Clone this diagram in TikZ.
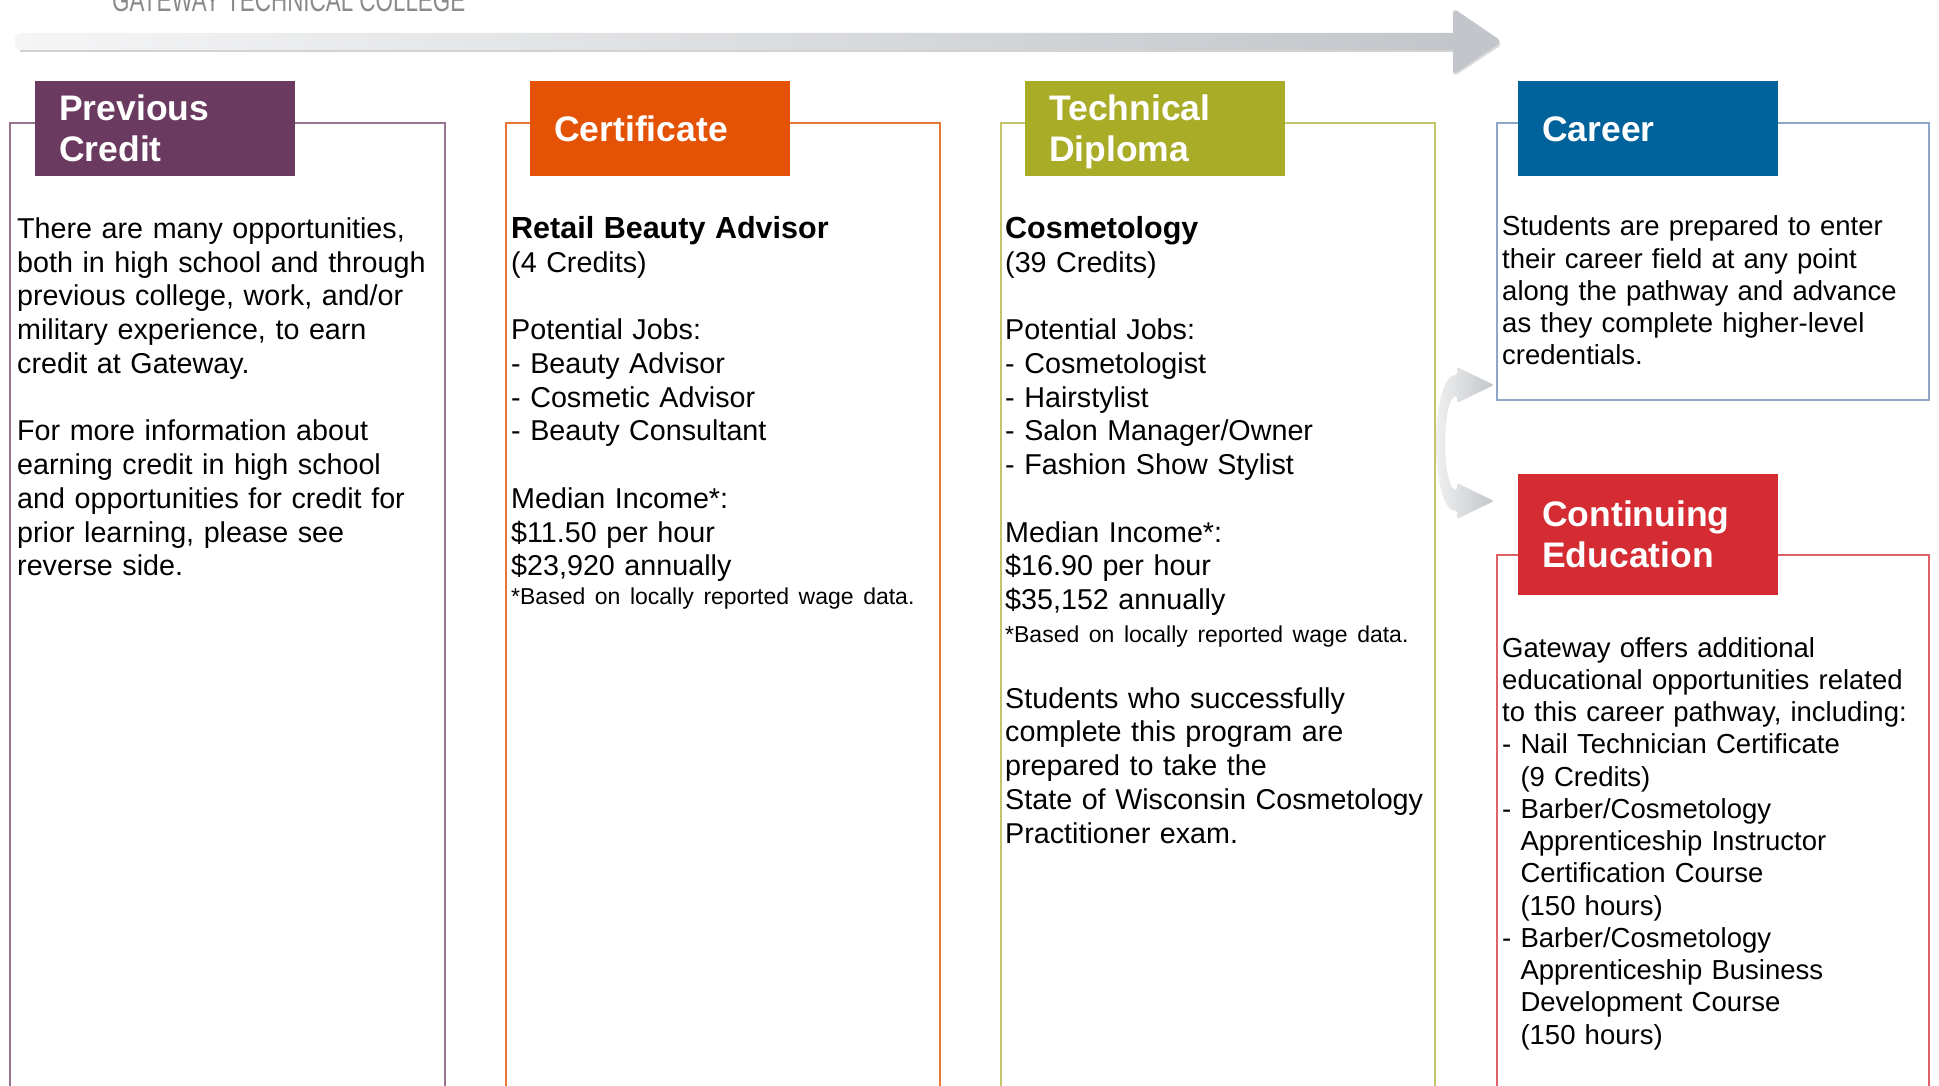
\documentclass[tikz,border=0pt]{standalone}
\usepackage{fontspec}
\setmainfont{Liberation Sans}
\usetikzlibrary{arrows.meta}

\definecolor{prevcol}{HTML}{6B3A60}
\definecolor{certcol}{HTML}{E35205}
\definecolor{dipcol}{HTML}{A9AC27}
\definecolor{careercol}{HTML}{00629B}
\definecolor{contcol}{HTML}{D52B33}
\definecolor{careerline}{HTML}{8EA7C8}
\definecolor{arrowgray}{HTML}{C2C6CA}
\definecolor{arrowlight}{HTML}{F5F5F6}
\definecolor{titlegray}{HTML}{8A8A8A}

\newcommand\bodyfont{\fontsize{28.7}{33.75}\selectfont}
\newcommand\leadfont{\fontsize{30.5}{33.75}\selectfont\bfseries}
\newcommand\notefont{\fontsize{23}{28}\selectfont}
\newcommand\sidefont{\fontsize{27.5}{32.25}\selectfont}
\newcommand\headfont{\fontsize{35.5}{41}\selectfont\bfseries}

\begin{document}
\begin{tikzpicture}[x=1pt,y=-1pt,
frame/.style={draw=#1, line width=1.3pt},
head/.style={fill=#1, text=white, font=\headfont, anchor=north west,
  minimum width=260pt, minimum height=95pt, text width=212pt,
  inner xsep=24pt, inner ysep=0pt, align=left,
  execute at begin node={\vrule width0pt height33pt depth0pt},
  execute at end node={\vrule width0pt height0pt depth8pt}},
body/.style={anchor=base west, inner sep=0pt, text width=440pt,
  align=left, font=\bodyfont},
side/.style={body, font=\sidefont, text width=425pt},
fanarrow/.pic={
  \shade[left color=white!88!gray, right color=arrowgray, rounded corners=1.5pt]
    (0,5) .. controls (0,-43) and (9,-68) .. (21,-68) -- (21,-76) -- (58,-58)
    -- (21,-40) -- (21,-47) .. controls (13,-46) and (9,-25) .. (9,5) -- cycle;}
]
\useasboundingbox (0,0) rectangle (1939,1086);
\clip (0,0) rectangle (1939,1086);

% pathway arrow
\node[anchor=base west, inner sep=0pt, text=titlegray, font=\fontsize{32}{36}\selectfont]
  (college) at (112,12) {\scalebox{0.7}[1]{GATEWAY TECHNICAL COLLEGE}};
\shade[left color=arrowlight, right color=arrowgray, rounded corners=6pt]
  (15,33) rectangle (1458,50);
\draw[gray!35, line width=2pt] (20,51) -- (1455,51);
\fill[gray!30, rounded corners=5pt] (1453,10) -- (1503,44) -- (1453,77) -- cycle;
\fill[arrowgray, rounded corners=5pt] (1453,8) -- (1502,41.5) -- (1453,75) -- cycle;

% frames
\draw[frame=prevcol!70] (10,123) rectangle (445,1120);
\draw[frame=certcol!80] (506,123) rectangle (940,1120);
\draw[frame=dipcol!70] (1001,123) rectangle (1435,1120);
\draw[frame=careerline] (1497,123) rectangle (1929,400);
\draw[frame=contcol!75] (1497,555) rectangle (1929,1120);

\node[head=prevcol] (prevhead) at (35,81) {Previous\\Credit};
\node[head=certcol] (certhead) at (530,81) {Certificate};
\node[head=dipcol] (diphead) at (1025,81) {Technical\\Diploma};
\node[head=careercol] (careerhead) at (1518,81) {Career};
\node[head=contcol, minimum height=121pt] (conthead) at (1518,474) {Continuing\\Education};

\node[body] (prevtext) at (17,238.5) {There are many opportunities,\\
  both in high school and through\\ previous college, work, and/or\\
  military experience, to earn\\ credit at Gateway.\\[33.75pt]
  For more information about\\ earning credit in high school\\
  and opportunities for credit for\\ prior learning, please see\\ reverse side.};

\node[body] (certtext) at (511,238.5) {{\leadfont Retail Beauty Advisor}\\ (4 Credits)\\[33.75pt]
  Potential Jobs:\\ - Beauty Advisor\\ - Cosmetic Advisor\\ - Beauty Consultant\\[33.75pt]
  Median Income*:\\ \$11.50 per hour\\ \$23,920 annually\\[-4.75pt]
  {\notefont *Based on locally reported wage data.}};

\node[body] (diptext) at (1005,238.5) {{\leadfont Cosmetology}\\ (39 Credits)\\[33.75pt]
  Potential Jobs:\\ - Cosmetologist\\ - Hairstylist\\ - Salon Manager/Owner\\
  - Fashion Show Stylist\\[33.75pt]
  Median Income*:\\ \$16.90 per hour\\ \$35,152 annually\\[-1pt]
  {\notefont *Based on locally reported wage data.}\\[32pt]
  Students who successfully\\ complete this program are\\ prepared to take the\\
  State of Wisconsin Cosmetology\\ Practitioner exam.};

\node[side] (careertext) at (1502,236) {Students are prepared to enter\\
  their career field at any point\\ along the pathway and advance\\
  as they complete higher-level\\ credentials.};

\node[side] (conttext) at (1502,657) {Gateway offers additional\\
  educational opportunities related\\ to this career pathway, including:\\
  - Nail Technician Certificate\\ \phantom{- }(9 Credits)\\
  - Barber/Cosmetology\\ \phantom{- }Apprenticeship Instructor\\
  \phantom{- }Certification Course\\ \phantom{- }(150 hours)\\
  - Barber/Cosmetology\\ \phantom{- }Apprenticeship Business\\
  \phantom{- }Development Course\\ \phantom{- }(150 hours)};

% split toward career / continuing education
\coordinate (fork) at (1436,443);
\path (fork) pic {fanarrow}
      (fork) pic[yscale=-1] {fanarrow};

\end{tikzpicture}
\end{document}
